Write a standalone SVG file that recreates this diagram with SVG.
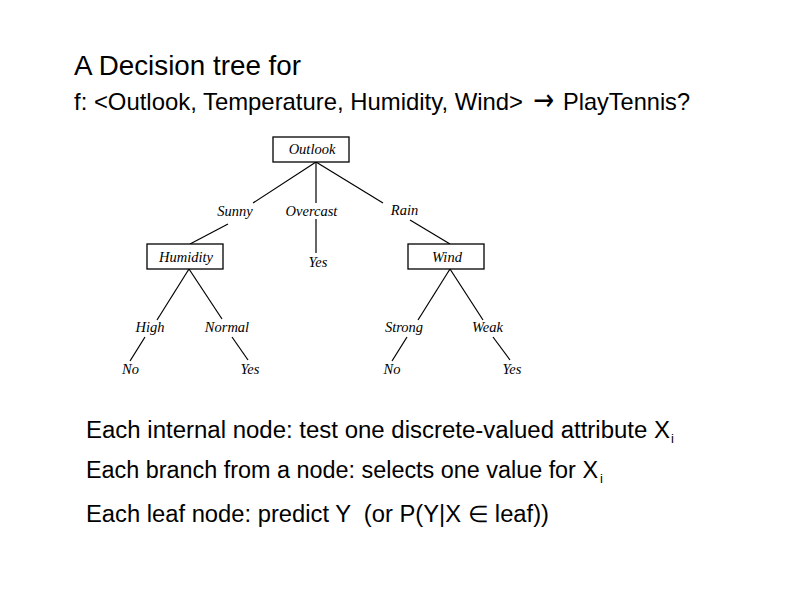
<svg xmlns="http://www.w3.org/2000/svg" width="792" height="612" viewBox="0 0 792 612">
<style>
.t{font-family:"Liberation Sans",Arial,sans-serif;fill:#000}
.n{font-family:"Liberation Serif","Times New Roman",serif;font-style:italic;font-size:14.5px;fill:#000;text-anchor:middle}
.box{fill:#fff;stroke:#000;stroke-width:1.3}
.c line{stroke:#000;stroke-width:1.2}
</style>
<rect width="792" height="612" fill="#fff"/>
<text class="t" x="74" y="75" font-size="28" textLength="227" lengthAdjust="spacingAndGlyphs">A Decision tree for</text>
<text class="t" x="74" y="110" font-size="24" textLength="449" lengthAdjust="spacingAndGlyphs">f: &lt;Outlook, Temperature, Humidity, Wind&gt;</text>
<text x="533" y="110" font-family="DejaVu Sans,sans-serif" font-size="30" textLength="21" lengthAdjust="spacingAndGlyphs">→</text>
<text class="t" x="563" y="110" font-size="24" textLength="127" lengthAdjust="spacingAndGlyphs">PlayTennis?</text>
<g id="connectors" class="c">
<line x1="316" y1="162" x2="253" y2="203"/>
<line x1="316" y1="162" x2="316" y2="203"/>
<line x1="316" y1="162" x2="383" y2="203"/>
<line x1="228" y1="224" x2="190" y2="244"/>
<line x1="316" y1="219" x2="316" y2="253"/>
<line x1="410" y1="220" x2="450" y2="244"/>
<line x1="189" y1="269" x2="157" y2="320"/>
<line x1="189" y1="269" x2="222" y2="319"/>
<line x1="145" y1="337" x2="130" y2="361"/>
<line x1="232" y1="337" x2="248" y2="360"/>
<line x1="450" y1="269" x2="418" y2="320"/>
<line x1="450" y1="269" x2="483" y2="320"/>
<line x1="407" y1="337" x2="392" y2="361"/>
<line x1="493" y1="337" x2="510" y2="360"/>
</g>
<g id="outlook"><rect class="box" x="273" y="137" width="76" height="25"/><text class="n" x="312" y="154">Outlook</text></g>
<g id="sunny"><text class="n" x="235" y="216">Sunny</text></g>
<g id="overcast"><text class="n" x="311.5" y="216">Overcast</text></g>
<g id="rain"><text class="n" x="404.5" y="215">Rain</text></g>
<g id="humidity"><rect class="box" x="147" y="244" width="76" height="25"/><text class="n" x="186" y="262">Humidity</text></g>
<g id="yes-overcast"><text class="n" x="318" y="267">Yes</text></g>
<g id="wind"><rect class="box" x="408" y="244" width="76" height="25"/><text class="n" x="447" y="262">Wind</text></g>
<g id="high"><text class="n" x="150" y="332">High</text></g>
<g id="normal"><text class="n" x="227" y="332">Normal</text></g>
<g id="strong"><text class="n" x="404" y="332">Strong</text></g>
<g id="weak"><text class="n" x="487.5" y="332">Weak</text></g>
<g id="no-high"><text class="n" x="130.5" y="374">No</text></g>
<g id="yes-normal"><text class="n" x="250" y="374">Yes</text></g>
<g id="no-strong"><text class="n" x="392" y="374">No</text></g>
<g id="yes-weak"><text class="n" x="512" y="374">Yes</text></g>
<text class="t" x="86" y="438" font-size="23" textLength="584" lengthAdjust="spacingAndGlyphs">Each internal node: test one discrete-valued attribute X</text>
<text class="t" x="671" y="443" font-size="13">i</text>
<text class="t" x="86" y="478" font-size="23" textLength="512" lengthAdjust="spacingAndGlyphs">Each branch from a node: selects one value for X</text>
<text class="t" x="600" y="483" font-size="13">i</text>
<text class="t" x="86" y="522" font-size="23" textLength="463" lengthAdjust="spacingAndGlyphs" xml:space="preserve">Each leaf node: predict Y  (or P(Y|X ∈ leaf))</text>
</svg>
